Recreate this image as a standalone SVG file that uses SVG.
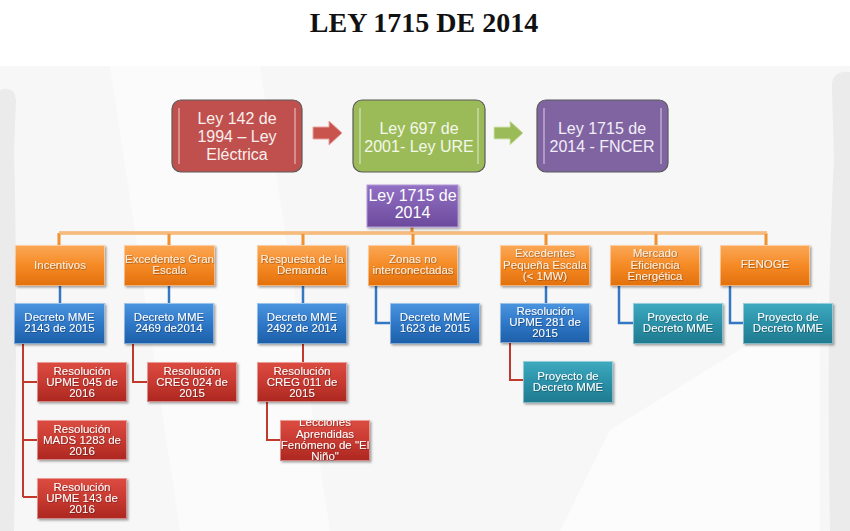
<svg xmlns="http://www.w3.org/2000/svg" width="850" height="531" viewBox="0 0 850 531">
<defs>
<linearGradient id="gOr" x1="0" y1="0" x2="0" y2="1"><stop offset="0" stop-color="#fba856"/><stop offset="0.5" stop-color="#f58a25"/><stop offset="1" stop-color="#e3700c"/></linearGradient>
<linearGradient id="gBl" x1="0" y1="0" x2="0" y2="1"><stop offset="0" stop-color="#4b95df"/><stop offset="0.5" stop-color="#2f78c8"/><stop offset="1" stop-color="#1d5fa8"/></linearGradient>
<linearGradient id="gTe" x1="0" y1="0" x2="0" y2="1"><stop offset="0" stop-color="#3eaabf"/><stop offset="0.5" stop-color="#2b91a8"/><stop offset="1" stop-color="#1f7a8f"/></linearGradient>
<linearGradient id="gRd" x1="0" y1="0" x2="0" y2="1"><stop offset="0" stop-color="#dc4c42"/><stop offset="0.5" stop-color="#c83a31"/><stop offset="1" stop-color="#ac2720"/></linearGradient>
<linearGradient id="gPu" x1="0" y1="0" x2="0" y2="1"><stop offset="0" stop-color="#9270c4"/><stop offset="1" stop-color="#6c4a9c"/></linearGradient>
<filter id="sh" x="-10%" y="-10%" width="125%" height="130%"><feDropShadow dx="1.5" dy="1.5" stdDeviation="1" flood-color="#000" flood-opacity="0.35"/></filter>
<filter id="tsh" x="-5%" y="-20%" width="110%" height="140%"><feDropShadow dx="0.6" dy="0.6" stdDeviation="0.3" flood-color="#000" flood-opacity="0.45"/></filter>
<clipPath id="clipLec"><rect x="280" y="420" width="90" height="41"/></clipPath>
</defs>
<style>
.big{font-family:"Liberation Sans",Arial,sans-serif;font-size:16px;text-anchor:middle}
.sm{font-family:"Liberation Sans",Arial,sans-serif;font-size:11.5px;fill:#fff;text-anchor:middle;filter:url(#tsh)}
.or .sm{fill:#fdf0e2}
.box{filter:url(#sh)}
.hl{fill:none;stroke:#fff;stroke-opacity:0.45;stroke-width:1}
.top{stroke:#5a5a5a;stroke-width:1.2}
.strip{stroke:#fff;stroke-opacity:0.35;stroke-width:2}
.cOr{fill:none;stroke:#f0922f;stroke-width:3}
.cOrI{fill:none;stroke:#fde4c8;stroke-width:1}
.cBl{fill:none;stroke:#3478c4;stroke-width:2.5}
.cRd{fill:none;stroke:#c0392b;stroke-width:2}
</style>
<rect width="850" height="531" fill="#ffffff"/>
<g id="background">
<rect x="0" y="66" width="850" height="465" fill="#f7f7f7"/>
<polygon points="110,66 260,66 330,531 180,531" fill="#fbfbfb"/>
<polygon points="610,430 820,300 820,531 560,531" fill="#fcfcfc"/>
<path d="M0,90 Q14,85 16,100 L14,150 Q18,300 14,531 L0,531 Z" fill="#ebebeb"/>
<path d="M850,72 Q830,70 832,90 L834,160 Q826,300 830,531 L850,531 Z" fill="#ebebeb"/>
</g>
<text x="424" y="32" font-family="Liberation Serif,'Times New Roman',serif" font-size="28" font-weight="bold" text-anchor="middle" fill="#111">LEY 1715 DE 2014</text>

<g id="connectors">
<polygon points="313,127 329,127 329,121 342,133 329,145 329,139 313,139" fill="#c9534d" stroke="#e8a29e" stroke-width="1"/>
<polygon points="494,127 510,127 510,121 523,133 510,145 510,139 494,139" fill="#9bbb59" stroke="#d3e3b0" stroke-width="1"/>
<path class="cOr" d="M412,227 V233 M59,233 H767 M59,233 V245 M169,233 V245 M303,233 V245 M413,233 V245 M546,233 V245 M656,233 V245 M766,233 V245"/>
<path class="cOrI" d="M59,233 H767"/>
<path class="cBl" d="M60,286 V303 M169,286 V303 M303,286 V303 M546,286 V303 M376,286 V323 H390 M619,286 V323 H633 M730,286 V323 H743"/>
<path class="cRd" d="M23,344 V497 M23,382 H37 M23,440 H37 M23,497 H37 M133,344 V382 H147 M303,344 V362 M267,402 V440 H280 M510,343 V380 H523"/>
</g>

<g id="n-ley142">
<rect class="top" x="172" y="100" width="130" height="72" rx="9" fill="#c0504d"/>
<path class="strip" d="M179,108 V164 M295,108 V164"/>
<text class="big" fill="#f8eeee"><tspan x="237" y="124">Ley 142 de</tspan><tspan x="237" y="142">1994 – Ley</tspan><tspan x="237" y="160">Eléctrica</tspan></text>
</g>
<g id="n-ley697">
<rect class="top" x="353" y="100" width="132" height="72" rx="9" fill="#9bbb59"/>
<path class="strip" d="M360,108 V164 M478,108 V164"/>
<text class="big" fill="#f4f8ea"><tspan x="419" y="134">Ley 697 de</tspan><tspan x="419" y="152">2001- Ley URE</tspan></text>
</g>
<g id="n-ley1715top">
<rect class="top" x="537" y="100" width="131" height="72" rx="9" fill="#8064a2"/>
<path class="strip" d="M544,108 V164 M661,108 V164"/>
<text class="big" fill="#f2eef8"><tspan x="602" y="134">Ley 1715 de</tspan><tspan x="602" y="152">2014 - FNCER</tspan></text>
</g>
<g id="n-ley1715">
<rect class="box" x="367" y="185" width="91" height="42" fill="url(#gPu)" stroke="#b49ad8" stroke-width="1"/>
<text class="big" fill="#fff"><tspan x="412.5" y="201">Ley 1715 de</tspan><tspan x="412.5" y="218">2014</tspan></text>
</g>

<g class="or">
<g id="n-incentivos"><rect class="box" x="15" y="245" width="90" height="41" fill="url(#gOr)"/><rect class="hl" x="15.5" y="245.5" width="89" height="40"/><text class="sm"><tspan x="60" y="269">Incentivos</tspan></text></g>
<g id="n-gran"><rect class="box" x="124" y="245" width="91" height="41" fill="url(#gOr)"/><rect class="hl" x="124.5" y="245.5" width="90" height="40"/><text class="sm"><tspan x="169.5" y="263">Excedentes Gran</tspan><tspan x="169.5" y="274">Escala</tspan></text></g>
<g id="n-respuesta"><rect class="box" x="257" y="245" width="90" height="41" fill="url(#gOr)"/><rect class="hl" x="257.5" y="245.5" width="89" height="40"/><text class="sm"><tspan x="302" y="263">Respuesta de la</tspan><tspan x="302" y="274">Demanda</tspan></text></g>
<g id="n-zonas"><rect class="box" x="368" y="245" width="90" height="41" fill="url(#gOr)"/><rect class="hl" x="368.5" y="245.5" width="89" height="40"/><text class="sm"><tspan x="413" y="263">Zonas no</tspan><tspan x="413" y="274">interconectadas</tspan></text></g>
<g id="n-pequena"><rect class="box" x="500" y="245" width="90" height="41" fill="url(#gOr)"/><rect class="hl" x="500.5" y="245.5" width="89" height="40"/><text class="sm"><tspan x="545" y="257">Excedentes</tspan><tspan x="545" y="268.5">Pequeña Escala</tspan><tspan x="545" y="280">(&lt; 1MW)</tspan></text></g>
<g id="n-mercado"><rect class="box" x="610" y="245" width="90" height="41" fill="url(#gOr)"/><rect class="hl" x="610.5" y="245.5" width="89" height="40"/><text class="sm"><tspan x="655" y="257">Mercado</tspan><tspan x="655" y="268.5">Eficiencia</tspan><tspan x="655" y="280">Energética</tspan></text></g>
<g id="n-fenoge"><rect class="box" x="720" y="245" width="90" height="41" fill="url(#gOr)"/><rect class="hl" x="720.5" y="245.5" width="89" height="40"/><text class="sm"><tspan x="765" y="268">FENOGE</tspan></text></g>
</g>

<g id="n-d2143"><rect class="box" x="14" y="303" width="91" height="41" fill="url(#gBl)"/><rect class="hl" x="14.5" y="303.5" width="90" height="40"/><text class="sm"><tspan x="59.5" y="321">Decreto MME</tspan><tspan x="59.5" y="332">2143 de 2015</tspan></text></g>
<g id="n-d2469"><rect class="box" x="124" y="303" width="90" height="41" fill="url(#gBl)"/><rect class="hl" x="124.5" y="303.5" width="89" height="40"/><text class="sm"><tspan x="169" y="321">Decreto MME</tspan><tspan x="169" y="332">2469 de2014</tspan></text></g>
<g id="n-d2492"><rect class="box" x="257" y="303" width="90" height="41" fill="url(#gBl)"/><rect class="hl" x="257.5" y="303.5" width="89" height="40"/><text class="sm"><tspan x="302" y="321">Decreto MME</tspan><tspan x="302" y="332">2492 de 2014</tspan></text></g>
<g id="n-d1623"><rect class="box" x="390" y="303" width="90" height="41" fill="url(#gBl)"/><rect class="hl" x="390.5" y="303.5" width="89" height="40"/><text class="sm"><tspan x="435" y="321">Decreto MME</tspan><tspan x="435" y="332">1623 de 2015</tspan></text></g>
<g id="n-r281"><rect class="box" x="500" y="303" width="90" height="40" fill="url(#gBl)"/><rect class="hl" x="500.5" y="303.5" width="89" height="39"/><text class="sm"><tspan x="545" y="315">Resolución</tspan><tspan x="545" y="326">UPME 281 de</tspan><tspan x="545" y="337">2015</tspan></text></g>
<g id="n-pdm1"><rect class="box" x="633" y="303" width="90" height="41" fill="url(#gTe)"/><rect class="hl" x="633.5" y="303.5" width="89" height="40"/><text class="sm"><tspan x="678" y="321">Proyecto de</tspan><tspan x="678" y="332">Decreto MME</tspan></text></g>
<g id="n-pdm2"><rect class="box" x="743" y="303" width="90" height="41" fill="url(#gTe)"/><rect class="hl" x="743.5" y="303.5" width="89" height="40"/><text class="sm"><tspan x="788" y="321">Proyecto de</tspan><tspan x="788" y="332">Decreto MME</tspan></text></g>

<g id="n-r045"><rect class="box" x="37" y="362" width="90" height="40" fill="url(#gRd)"/><rect class="hl" x="37.5" y="362.5" width="89" height="39"/><text class="sm"><tspan x="82" y="375">Resolución</tspan><tspan x="82" y="386">UPME 045 de</tspan><tspan x="82" y="397">2016</tspan></text></g>
<g id="n-r1283"><rect class="box" x="37" y="420" width="90" height="40" fill="url(#gRd)"/><rect class="hl" x="37.5" y="420.5" width="89" height="39"/><text class="sm"><tspan x="82" y="433">Resolución</tspan><tspan x="82" y="444">MADS 1283 de</tspan><tspan x="82" y="455">2016</tspan></text></g>
<g id="n-r143"><rect class="box" x="37" y="478" width="90" height="41" fill="url(#gRd)"/><rect class="hl" x="37.5" y="478.5" width="89" height="40"/><text class="sm"><tspan x="82" y="491">Resolución</tspan><tspan x="82" y="502">UPME 143 de</tspan><tspan x="82" y="513">2016</tspan></text></g>
<g id="n-r024"><rect class="box" x="147" y="362" width="90" height="40" fill="url(#gRd)"/><rect class="hl" x="147.5" y="362.5" width="89" height="39"/><text class="sm"><tspan x="192" y="375">Resolución</tspan><tspan x="192" y="386">CREG 024 de</tspan><tspan x="192" y="397">2015</tspan></text></g>
<g id="n-r011"><rect class="box" x="257" y="362" width="90" height="40" fill="url(#gRd)"/><rect class="hl" x="257.5" y="362.5" width="89" height="39"/><text class="sm"><tspan x="302" y="375">Resolución</tspan><tspan x="302" y="386">CREG 011 de</tspan><tspan x="302" y="397">2015</tspan></text></g>
<g id="n-lecciones"><rect class="box" x="280" y="420" width="90" height="41" fill="url(#gRd)"/><rect class="hl" x="280.5" y="420.5" width="89" height="40"/><g clip-path="url(#clipLec)"><text class="sm"><tspan x="325" y="426">Lecciones</tspan><tspan x="325" y="438">Aprendidas</tspan><tspan x="325" y="449">Fenómeno de "El</tspan><tspan x="325" y="460">Niño"</tspan></text></g></g>
<g id="n-pdm3"><rect class="box" x="523" y="361" width="90" height="42" fill="url(#gTe)"/><rect class="hl" x="523.5" y="361.5" width="89" height="41"/><text class="sm"><tspan x="568" y="380">Proyecto de</tspan><tspan x="568" y="391">Decreto MME</tspan></text></g>
</svg>
